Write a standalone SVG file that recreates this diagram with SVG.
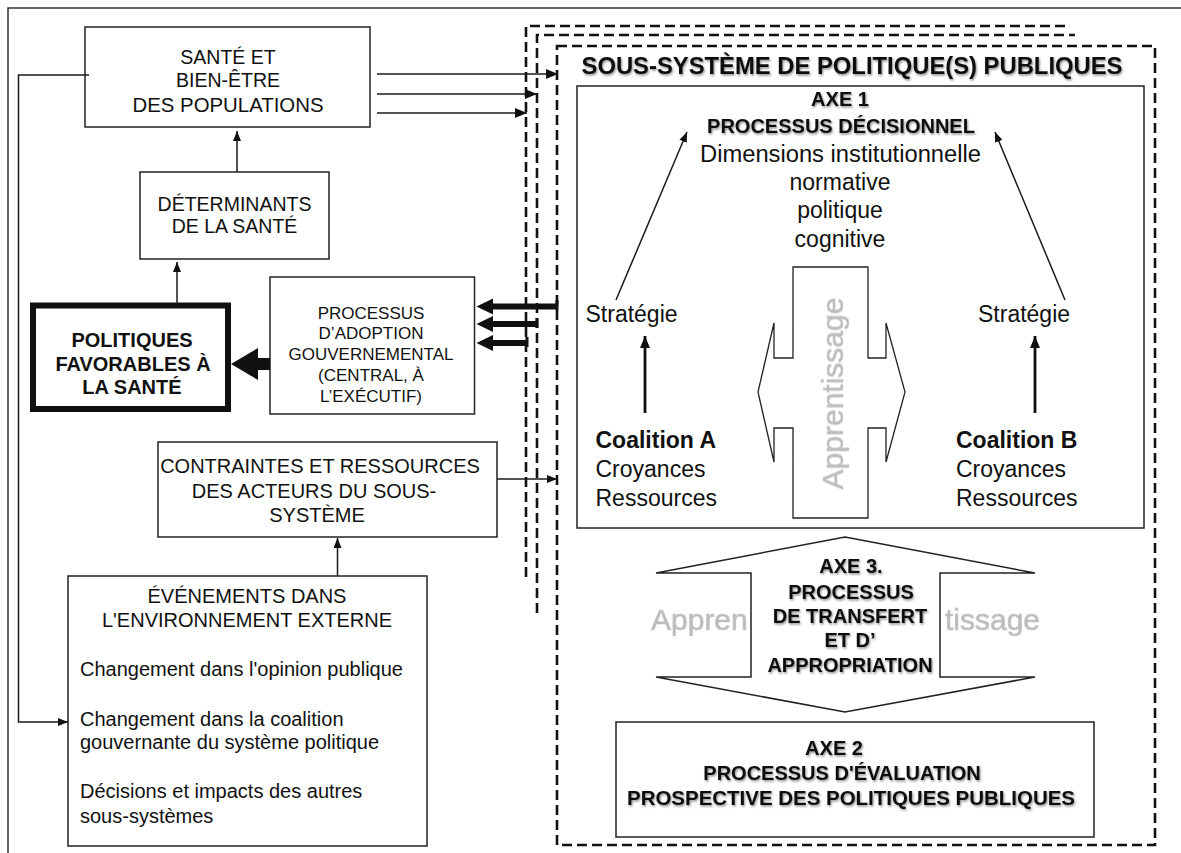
<svg xmlns="http://www.w3.org/2000/svg" width="1181" height="853" viewBox="0 0 1181 853">
<style>
text{font-family:"Liberation Sans",Arial,sans-serif;fill:#111}
.box{fill:#fff;stroke:#222;stroke-width:1.5}
.r20{font-size:20px}
.r19{font-size:19.5px}
.r17{font-size:17px}
.r23{font-size:23px}
.b20{font-size:20px;font-weight:bold}
.b23{font-size:23px;font-weight:bold}
.c{text-anchor:middle}
.ln{fill:none;stroke:#1a1a1a;stroke-width:1.5}
.dash{fill:none;stroke:#111;stroke-width:2.6;stroke-dasharray:10 5}
.gray{font-size:30px;fill:#bcbcbc;stroke:#c4c4c4;stroke-width:0.7}
.sh{filter:url(#sh)}
.shg{filter:url(#shg)}
</style>
<defs>
<filter id="sh" x="-10%" y="-30%" width="120%" height="160%">
<feDropShadow dx="1" dy="1.5" stdDeviation="1.2" flood-color="#000" flood-opacity="0.45"/>
</filter>
<filter id="shg" x="-10%" y="-30%" width="120%" height="160%">
<feGaussianBlur stdDeviation="0.6"/>
</filter>
<marker id="ah" viewBox="0 0 10 8" refX="10" refY="4" markerWidth="10" markerHeight="8" markerUnits="userSpaceOnUse" orient="auto">
<path d="M0,0 L10,4 L0,8 z" fill="#111"/>
</marker>
<marker id="ahb" viewBox="0 0 12 10" refX="12" refY="5" markerWidth="12" markerHeight="10" markerUnits="userSpaceOnUse" orient="auto">
<path d="M0,0 L12,5 L0,10 z" fill="#111"/>
</marker>
</defs>
<rect x="0" y="0" width="1181" height="853" fill="#fff"/>
<rect x="8" y="8" width="1190" height="870" fill="none" stroke="#333" stroke-width="1.5"/>

<g id="sous-systeme">
<path class="dash" d="M526,577 V26 H1065"/>
<path class="dash" d="M537,613 V35 H1075"/>
<rect class="dash" x="557" y="46" width="598" height="799"/>
<text class="sh" x="852" y="74" style="font-size:23.5px;font-weight:bold" text-anchor="middle" textLength="541" lengthAdjust="spacingAndGlyphs">SOUS-SYSTÈME DE POLITIQUE(S) PUBLIQUES</text>
</g>

<g id="axe1">
<rect class="box" x="577" y="86" width="567" height="442"/>
<text class="b20 c sh" x="840" y="106">AXE 1</text>
<text class="b20 c sh" x="841" y="133">PROCESSUS DÉCISIONNEL</text>
<text class="r23 c" x="840.5" y="162" textLength="281" lengthAdjust="spacingAndGlyphs">Dimensions institutionnelle</text>
<text class="r23 c" x="840" y="190">normative</text>
<text class="r23 c" x="840" y="218">politique</text>
<text class="r23 c" x="840" y="247">cognitive</text>
</g>

<g id="apprentissage">
<path fill="#fff" stroke="#222" stroke-width="1.3" d="M793,267 H868 V358 H886 V323 L905,392 L886,462 V428 H868 V518 H793 V428 H774 V462 L758,392 L774,323 V358 H793 Z"/>
<text class="gray shg" transform="translate(843,393.5) rotate(-90)" text-anchor="middle">Apprentissage</text>
</g>

<g id="coalition-a">
<text class="r23" x="585.5" y="322">Stratégie</text>
<text class="b23" x="595.5" y="448">Coalition A</text>
<text class="r23" x="595.5" y="477">Croyances</text>
<text class="r23" x="595.5" y="506">Ressources</text>
</g>

<g id="coalition-b">
<text class="r23" x="978" y="322">Stratégie</text>
<text class="b23" x="956" y="448">Coalition B</text>
<text class="r23" x="956" y="477">Croyances</text>
<text class="r23" x="956" y="506">Ressources</text>
</g>

<g id="axe3">
<path fill="#fff" stroke="#222" stroke-width="1.5" d="M845,537 L1035,573 H940 V677 H1035 L845,712 L656,677 H751 V573 H656 Z"/>
<text class="gray shg" x="651" y="630">Appren</text>
<text class="gray shg" x="945" y="630">tissage</text>
<text class="b20 c sh" x="851" y="573">AXE 3.</text>
<text class="b20 c sh" x="851" y="599">PROCESSUS</text>
<text class="b20 c sh" x="850" y="623">DE TRANSFERT</text>
<text class="b20 c sh" x="850" y="647">ET D’</text>
<text class="b20 c sh" x="850" y="672">APPROPRIATION</text>
</g>

<g id="axe2">
<rect class="box" x="616" y="722" width="478" height="115"/>
<text class="b20 c sh" x="834" y="755">AXE 2</text>
<text class="b20 c sh" x="842" y="780">PROCESSUS D'ÉVALUATION</text>
<text class="b20 c sh" x="851" y="805" textLength="448" lengthAdjust="spacingAndGlyphs">PROSPECTIVE DES POLITIQUES PUBLIQUES</text>
</g>

<g id="sante">
<rect class="box" x="85" y="27" width="285" height="100"/>
<text class="r19 c" x="228" y="64">SANTÉ ET</text>
<text class="r19 c" x="228" y="87">BIEN-ÊTRE</text>
<text class="r19 c" x="228" y="112" textLength="191" lengthAdjust="spacingAndGlyphs">DES POPULATIONS</text>
</g>

<g id="determinants">
<rect class="box" x="140" y="172" width="189" height="87"/>
<text class="r19 c" x="234.5" y="211">DÉTERMINANTS</text>
<text class="r19 c" x="234.5" y="233">DE LA SANTÉ</text>
</g>

<g id="politiques">
<rect x="33" y="305.5" width="195" height="103.5" fill="#fff" stroke="#111" stroke-width="6"/>
<text class="b20 c" x="132" y="347">POLITIQUES</text>
<text class="b20 c" x="133" y="371">FAVORABLES À</text>
<text class="b20 c" x="132" y="394">LA SANTÉ</text>
</g>

<g id="processus-adoption">
<rect class="box" x="270" y="277" width="204.5" height="137"/>
<text class="r17 c" x="371" y="319">PROCESSUS</text>
<text class="r17 c" x="371" y="339">D’ADOPTION</text>
<text class="r17 c" x="371" y="360" textLength="165" lengthAdjust="spacingAndGlyphs">GOUVERNEMENTAL</text>
<text class="r17 c" x="371" y="381">(CENTRAL, À</text>
<text class="r17 c" x="371" y="402">L’EXÉCUTIF)</text>
</g>

<g id="contraintes">
<rect class="box" x="158" y="442" width="339" height="95"/>
<text class="r20 c" x="320" y="473">CONTRAINTES ET RESSOURCES</text>
<text class="r20 c" x="314" y="498">DES ACTEURS DU SOUS-</text>
<text class="r20 c" x="317" y="522">SYSTÈME</text>
</g>

<g id="evenements">
<rect class="box" x="68" y="576" width="359" height="270"/>
<text class="r20 c" x="247" y="603">ÉVÉNEMENTS DANS</text>
<text class="r20 c" x="247" y="627">L'ENVIRONNEMENT EXTERNE</text>
<text class="r20" x="80" y="676">Changement dans l'opinion publique</text>
<text class="r20" x="80" y="726">Changement dans la coalition</text>
<text class="r20" x="80" y="749">gouvernante du système politique</text>
<text class="r20" x="80" y="798">Décisions et impacts des autres</text>
<text class="r20" x="80" y="823">sous-systèmes</text>
</g>

<g id="connectors">
<path class="ln" d="M89,75 H18.5 V722 H68" marker-end="url(#ah)"/>
<path class="ln" d="M377,74 H558" marker-end="url(#ahb)"/>
<path class="ln" d="M377,94 H537" marker-end="url(#ahb)"/>
<path class="ln" d="M377,113 H527" marker-end="url(#ahb)"/>
<path class="ln" d="M237,172 V131" marker-end="url(#ah)"/>
<path class="ln" d="M177,303 V262" marker-end="url(#ah)"/>
<path class="ln" d="M337.5,576 V538" marker-end="url(#ah)"/>
<path class="ln" d="M497,479 H557" marker-end="url(#ah)"/>
<path fill="#111" d="M231,364 L258,348 V358 H270 V370 H258 V380 Z"/>
<path fill="#111" d="M476.5,306.5 L493,298.5 V303.5 H557 V309.5 H493 V314.5 Z"/>
<path fill="#111" d="M476.5,324 L493,316 V321 H537 V327 H493 V332 Z"/>
<path fill="#111" d="M476.5,343 L493,335 V340 H527 V346 H493 V351 Z"/>
<path fill="none" stroke="#111" stroke-width="3" d="M557,300 V310 M537,318 V328 M527,337 V347"/>
<path class="ln" stroke-width="1.2" d="M616,300 L687,132" marker-end="url(#ah)"/>
<path class="ln" stroke-width="1.2" d="M1065,300 L995,132" marker-end="url(#ah)"/>
<path fill="none" stroke="#111" stroke-width="2.8" d="M645,413 V336" marker-end="url(#ahb)"/>
<path fill="none" stroke="#111" stroke-width="2.8" d="M1035,413 V336" marker-end="url(#ahb)"/>
</g>
</svg>
